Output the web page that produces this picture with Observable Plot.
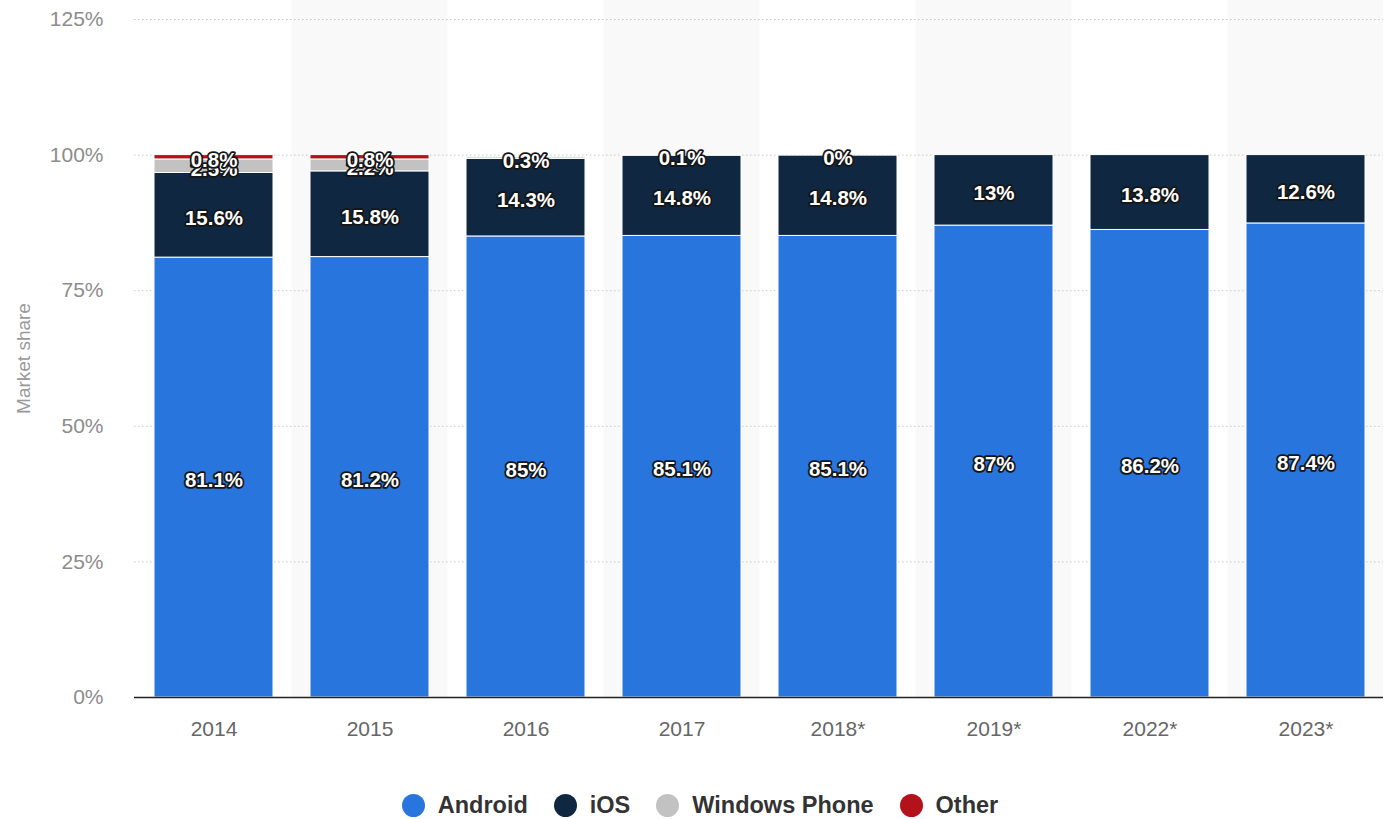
<!DOCTYPE html>
<html>
<head>
<meta charset="utf-8">
<script src="https://cdn.jsdelivr.net/npm/d3@7"></script>
<script src="https://cdn.jsdelivr.net/npm/@observablehq/plot@0.6"></script>
<style>
  html, body { margin: 0; padding: 0; background: #fff; }
  body { width: 1383px; height: 819px; overflow: hidden; font-family: "Liberation Sans", Arial, sans-serif; }
  #legend { display: flex; justify-content: center; align-items: center; margin-top: 32px; padding-left: 17px; }
  .item { display: flex; align-items: center; margin: 0 13px; font-weight: bold; font-size: 23.5px; color: #333; }
  .dot { width: 23px; height: 23px; border-radius: 50%; margin-right: 13px; }
</style>
</head>
<body>
<div id="chart"></div>
<div id="legend"></div>
<script>
const years = ["2014", "2015", "2016", "2017", "2018*", "2019*", "2022*", "2023*"];
const android = [81.1, 81.2, 85, 85.1, 85.1, 87, 86.2, 87.4];
const ios = [15.6, 15.8, 14.3, 14.8, 14.8, 13, 13.8, 12.6];
const windowsPhone = [2.5, 2.2, 0.3, 0.1, 0, null, null, null];
const other = [0.8, 0.8, null, null, null, null, null, null];
const seriesNames = ["Android", "iOS", "Windows Phone", "Other"];
const seriesColors = ["#2876dd", "#0f2741", "#c2c2c2", "#b3121a"];
const yTicks = [0, 25, 50, 75, 100, 125];

const seriesValues = [android, ios, windowsPhone, other];
const data = [];
seriesNames.forEach((s, si) => {
  years.forEach((yr, i) => {
    const v = seriesValues[si][i];
    if (v !== null) data.push({year: yr, series: s, value: v});
  });
});
const shaded = years.filter((d, i) => i % 2 === 1);

const stackOpts = {x: "year", y: "value", z: "series", order: seriesNames};

const chart = Plot.plot({
  width: 1383,
  height: 760,
  marginLeft: 134,
  marginRight: -3,
  marginTop: 19,
  marginBottom: 63,
  style: {fontFamily: "'Liberation Sans', Arial, sans-serif", background: "#fff", overflow: "hidden"},
  x: {domain: years, paddingInner: 0.234, paddingOuter: 0.117, label: null},
  y: {domain: [0, 125], ticks: yTicks, label: null},
  color: {domain: seriesNames, range: seriesColors},
  marks: [
    Plot.barY(shaded, {x: d => d, y1: 0, y2: 125, fill: "#f9f9f9", insetLeft: -18.3, insetRight: -18.3, insetTop: -19}),
    Plot.ruleY(yTicks.filter(d => d > 0), {stroke: "#c8c8c8", strokeDasharray: "1.5,2.5", strokeWidth: 1}),
    Plot.barY(data, Plot.stackY({...stackOpts, fill: "series", stroke: "#fff", strokeWidth: 1})),
    Plot.ruleY([0], {stroke: "#222", strokeWidth: 1.5}),
    Plot.text(data, Plot.stackY({...stackOpts, text: d => d.value + "%", fill: "#fff", stroke: "#151515",
      strokeWidth: 3.5, paintOrder: "stroke", fontWeight: "bold", fontSize: 20.5, dy: 3})),
    Plot.axisX({tickSize: 0, tickPadding: 24, fontSize: 21, fill: "#666", label: null}),
    Plot.axisY({ticks: yTicks, tickFormat: d => d + "%", tickSize: 0, tickPadding: 31, fontSize: 21, fill: "#8c8c8c",
      label: "Market share", labelAnchor: "center", labelArrow: "none", labelOffset: 118})
  ]
});
chart.querySelectorAll("[aria-label='y-axis label']").forEach(el => {
  el.setAttribute("fill", "#999");
  el.setAttribute("font-size", "19");
});
document.getElementById("chart").appendChild(chart);

const legend = document.getElementById("legend");
seriesNames.forEach((s, i) => {
  const it = document.createElement("div");
  it.className = "item";
  it.innerHTML = `<span class="dot" style="background:${seriesColors[i]}"></span>${s}`;
  legend.appendChild(it);
});
</script>
</body>
</html>
